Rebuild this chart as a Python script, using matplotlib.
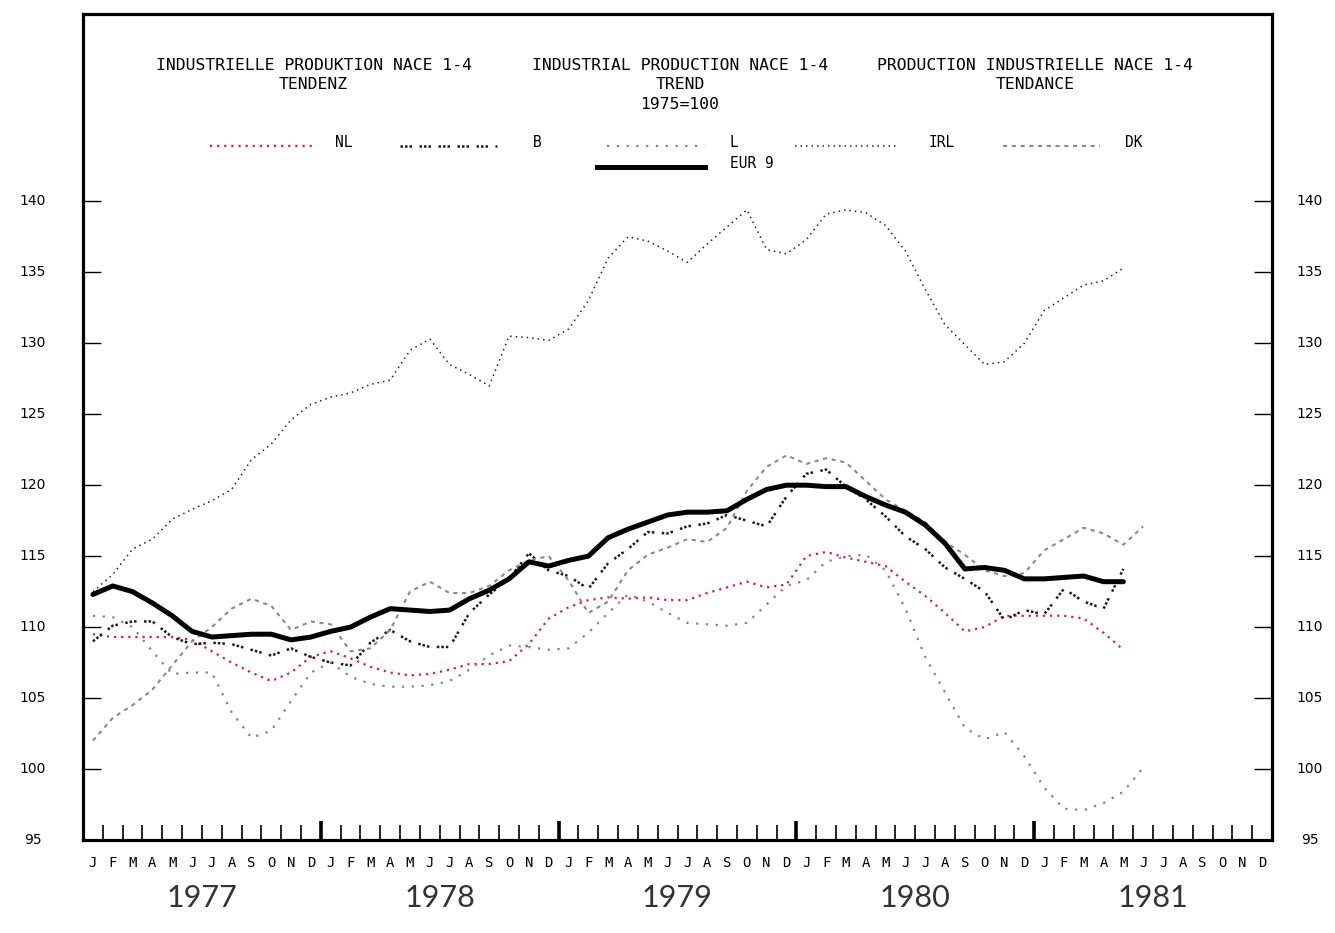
import matplotlib
matplotlib.use("Agg")
import matplotlib.pyplot as plt
import matplotlib.transforms as mtransforms

# Indices industriels NACE 1-4, tendance, 1975=100, janv. 1977 -> juin 1981
month_letters = list("JFMAMJJASOND") * 5
years = ["1977", "1978", "1979", "1980", "1981"]
y_ticks = [95, 100, 105, 110, 115, 120, 125, 130, 135, 140]

nl = [109.5, 109.3, 109.3, 109.3, 109.3, 109.1, 108.3, 107.5, 106.8, 106.2, 106.8, 107.9,
      108.3, 107.8, 107.2, 106.8, 106.6, 106.7, 107.0, 107.4, 107.4, 107.6, 108.8, 110.6,
      111.4, 111.9, 112.1, 112.0, 112.1, 111.9, 111.9, 112.4, 112.8, 113.2, 112.8, 113.0,
      115.0, 115.3, 114.9, 114.6, 114.3, 113.2, 112.2, 111.0, 109.7, 110.0, 110.8, 110.8,
      110.8, 110.8, 110.6, 109.6, 108.4]

b = [109.0, 110.1, 110.4, 110.4, 109.3, 108.8, 108.9, 108.8, 108.4, 108.0, 108.5, 107.9,
     107.5, 107.3, 108.9, 109.8, 109.0, 108.6, 108.6, 111.0, 112.3, 113.4, 115.2, 114.0,
     113.6, 112.7, 114.5, 115.5, 116.7, 116.6, 117.1, 117.3, 117.9, 117.5, 117.1, 119.2,
     120.8, 121.1, 119.9, 119.0, 117.8, 116.4, 115.5, 114.2, 113.4, 112.5, 110.5, 111.2,
     110.9, 112.7, 111.8, 111.3, 114.1]

lux = [110.8, 110.7, 110.0, 108.3, 106.7, 106.8, 106.8, 104.0, 102.2, 102.7, 104.8, 106.8,
       107.5, 106.5, 106.0, 105.8, 105.8, 105.9, 106.2, 107.0, 108.0, 108.7, 108.6, 108.4,
       108.5, 109.6, 111.0, 112.3, 111.8, 111.0, 110.3, 110.2, 110.1, 110.3, 111.6, 112.9,
       113.3, 114.6, 115.0, 115.1, 114.0, 111.3, 107.9, 105.4, 102.9, 102.1, 102.6, 100.9,
       98.7, 97.2, 97.1, 97.6, 98.4, 100.1]

irl = [112.5, 113.7, 115.5, 116.2, 117.6, 118.3, 118.9, 119.7, 121.8, 122.9, 124.6, 125.7,
       126.2, 126.5, 127.1, 127.4, 129.5, 130.3, 128.5, 127.8, 127.0, 130.5, 130.4, 130.2,
       131.0, 133.0, 136.0, 137.5, 137.2, 136.5, 135.7, 137.0, 138.2, 139.4, 136.6, 136.3,
       137.3, 139.1, 139.4, 139.2, 138.3, 136.5, 133.8, 131.3, 129.9, 128.5, 128.7, 130.0,
       132.3, 133.2, 134.1, 134.4, 135.3]

dk = [102.0, 103.6, 104.5, 105.6, 107.3, 109.0, 110.0, 111.3, 112.0, 111.5, 109.8, 110.4,
      110.2, 108.3, 108.5, 109.8, 112.5, 113.2, 112.4, 112.4, 112.9, 114.0, 114.7, 115.0,
      113.3, 111.0, 111.8, 114.0, 115.1, 115.6, 116.2, 116.0, 117.0, 119.6, 121.3, 122.1,
      121.5, 121.9, 121.6, 120.3, 119.0, 118.2, 117.4, 116.0, 115.1, 114.0, 113.6, 113.8,
      115.4, 116.2, 117.0, 116.6, 115.8, 117.1]

eur9 = [112.3, 112.9, 112.5, 111.7, 110.8, 109.7, 109.3, 109.4, 109.5, 109.5, 109.1, 109.3,
        109.7, 110.0, 110.7, 111.3, 111.2, 111.1, 111.2, 112.0, 112.6, 113.4, 114.6, 114.3,
        114.7, 115.0, 116.3, 116.9, 117.4, 117.9, 118.1, 118.1, 118.2, 119.0, 119.7, 120.0,
        120.0, 119.9, 119.9, 119.2, 118.6, 118.1, 117.2, 115.9, 114.1, 114.2, 114.0, 113.4,
        113.4, 113.5, 113.6, 113.2, 113.2]

mono = "DejaVu Sans Mono"

# styles des courbes (imitation du traceur)
styles = {
    "NL": dict(color="#d81b5a", lw=1.6, ls=(0, (1, 2.2))),
    "B": dict(color="#1a1a1a", lw=1.8, ls=(0, (1, 0.8, 1, 0.8, 1, 3))),
    "L": dict(color="#8c7d82", lw=1.6, ls=(0, (1, 3.4))),
    "IRL": dict(color="#222222", lw=1.1, ls=(0, (1, 2.6))),
    "DK": dict(color="#8a8a8a", lw=1.5, ls=(0, (2, 2.2))),
    "EUR 9": dict(color="black", lw=3.6, ls="-"),
}

fig = plt.figure(figsize=(13.35, 9.33), dpi=100)
ax = fig.add_axes([83 / 1335, 1 - 840 / 933, 1189 / 1335, 826 / 933])

series = [("NL", nl), ("B", b), ("L", lux), ("IRL", irl), ("DK", dk), ("EUR 9", eur9)]
for name, vals in series:
    xs = [i + 0.5 for i in range(len(vals))]
    st = styles[name]
    ax.plot(xs, vals, color=st["color"], lw=st["lw"], linestyle=st["ls"],
            solid_capstyle="round", zorder=4 if name == "EUR 9" else 3)

ax.set_xlim(0, 60)
ax.set_ylim(95, 153.2)

for s in ax.spines.values():
    s.set_linewidth(2.3)

# axe y : traits intérieurs des deux côtés, libellés centrés
ax.set_yticks(y_ticks)
ax.tick_params(axis="y", direction="in", length=13, width=1.0, left=True, right=True,
               labelleft=False, labelright=False)
ytr = mtransforms.blended_transform_factory(ax.transAxes, ax.transData)
for v in y_ticks:
    ax.text(-50 / 1189, v, str(v), transform=ytr, ha="center", va="center",
            fontsize=10, family="DejaVu Sans")
    ax.text(1 + 38 / 1189, v, str(v), transform=ytr, ha="center", va="center",
            fontsize=10, family="DejaVu Sans")

# axe x : traits aux limites de mois, traits épais entre années
ax.set_xticks([12, 24, 36, 48])
ax.set_xticks([m for m in range(1, 60) if m % 12 != 0], minor=True)
ax.tick_params(axis="x", which="major", direction="in", length=14, width=2.6, labelbottom=False)
ax.tick_params(axis="x", which="minor", direction="in", length=11, width=1.2)

xtr = mtransforms.blended_transform_factory(ax.transData, ax.transAxes)
for i, m in enumerate(month_letters):
    ax.text(i + 0.5, -0.028, m, transform=xtr, ha="center", va="center",
            fontsize=10, family=mono)
for k, yr in enumerate(years):
    ax.text(12 * k + 6, -0.07, yr, transform=xtr, ha="center", va="center",
            fontsize=22, color="#333333", family=["Lato", "DejaVu Sans"],
            fontweight="normal")

# titres
titles = [
    (0.194, ["INDUSTRIELLE PRODUKTION NACE 1-4", "TENDENZ"]),
    (0.502, ["INDUSTRIAL PRODUCTION NACE 1-4", "TREND", "1975=100"]),
    (0.801, ["PRODUCTION INDUSTRIELLE NACE 1-4", "TENDANCE"]),
]
for xc, lines in titles:
    for j, t in enumerate(lines):
        ax.text(xc, 0.938 - j * 0.0235, t, transform=ax.transAxes, ha="center",
                va="center", fontsize=11.8, family=mono)

# légende dessinée à la main
leg = [
    ("NL", 0.107, 0.193, 0.212, 0.840),
    ("B", 0.267, 0.348, 0.378, 0.840),
    ("L", 0.441, 0.523, 0.544, 0.840),
    ("IRL", 0.599, 0.685, 0.711, 0.840),
    ("DK", 0.774, 0.855, 0.876, 0.840),
    ("EUR 9", 0.432, 0.523, 0.544, 0.815),
]
for name, x0, x1, xl, yl in leg:
    st = styles[name]
    ax.plot([x0, x1], [yl, yl], transform=ax.transAxes, color=st["color"],
            lw=st["lw"], linestyle=st["ls"], clip_on=False)
    ax.text(xl, yl + 0.004, name, transform=ax.transAxes, ha="left", va="center",
            fontsize=10.5, family=mono)

fig.savefig("out.png", dpi=100, facecolor="white")
